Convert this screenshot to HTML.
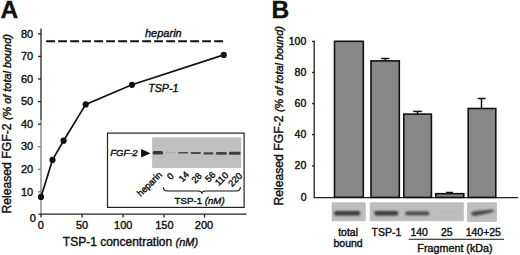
<!DOCTYPE html>
<html><head><meta charset="utf-8">
<style>
html,body{margin:0;padding:0;background:#fff;width:520px;height:255px;overflow:hidden}
svg{display:block}
text{font-family:"Liberation Sans",sans-serif;fill:#111;stroke:#111;stroke-width:0.4px}
.it{font-style:italic}
</style></head>
<body>
<svg width="520" height="255" viewBox="0 0 520 255">
<defs><filter id="bl2" x="-20%" y="-100%" width="140%" height="300%"><feGaussianBlur stdDeviation="0.55"/></filter><filter id="bl" x="-20%" y="-100%" width="140%" height="300%"><feGaussianBlur stdDeviation="0.85"/></filter></defs>
<rect width="520" height="255" fill="#fff"/>
<!-- ===== Panel A ===== -->
<text x="0.6" y="17.7" font-size="24.5" font-weight="bold">A</text>
<!-- y axis label -->
<text transform="translate(11,213.6) rotate(-90)" font-size="12.2">Released FGF-2 <tspan class="it" font-size="10.9">(% of total bound)</tspan></text>
<!-- axes -->
<g stroke="#222" stroke-width="1.3" fill="none">
<line x1="41" y1="28.5" x2="41" y2="120"/>
<line x1="41" y1="120" x2="41" y2="214.5" stroke="#7c7c7c"/>
<line x1="38.5" y1="214.2" x2="246.5" y2="214.2"/>
<line x1="38" y1="191.9" x2="41" y2="191.9" stroke="#7c7c7c"/>
<line x1="38" y1="169.3" x2="41" y2="169.3" stroke="#7c7c7c"/>
<line x1="38" y1="146.7" x2="41" y2="146.7" stroke="#7c7c7c"/>
<line x1="38" y1="124.2" x2="41" y2="124.2"/>
<line x1="38" y1="101.6" x2="41" y2="101.6"/>
<line x1="38" y1="79.0" x2="41" y2="79.0"/>
<line x1="38" y1="56.4" x2="41" y2="56.4"/>
<line x1="38" y1="33.8" x2="41" y2="33.8"/>
<line x1="41" y1="214.2" x2="41" y2="217.5"/>
<line x1="82" y1="214.2" x2="82" y2="217.5"/>
<line x1="123" y1="214.2" x2="123" y2="217.5"/>
<line x1="164" y1="214.2" x2="164" y2="217.5"/>
<line x1="204.5" y1="214.2" x2="204.5" y2="217.5"/>
</g>
<g font-size="11" text-anchor="end">
<text x="33.2" y="37.5">80</text>
<text x="33.2" y="60.1">70</text>
<text x="33.2" y="82.7">60</text>
<text x="33.2" y="105.3">50</text>
<text x="33.2" y="127.9">40</text>
<text x="33.2" y="150.4">30</text>
<text x="33.2" y="173.0">20</text>
<text x="33.2" y="195.6">10</text>
<text x="35.8" y="222">0</text>
</g>
<g font-size="11" text-anchor="middle">
<text x="40.8" y="228.5">0</text>
<text x="82" y="228.5">50</text>
<text x="123.2" y="228.5">100</text>
<text x="164.4" y="228.5">150</text>
<text x="204" y="228.5">200</text>
</g>
<text x="62.8" y="245.6" font-size="12">TSP-1 concentration <tspan class="it" font-size="11">(nM)</tspan></text>
<!-- heparin dashed -->
<line x1="46.2" y1="41.3" x2="223.8" y2="41.3" stroke="#111" stroke-width="1.9" stroke-dasharray="8.8 3.2"/>
<text class="it" x="145" y="36.9" font-size="11">heparin</text>
<!-- data -->
<polyline points="41,196.9 52.5,159.9 63.6,140.7 85.7,104.4 132,84.8 223.8,54.9" fill="none" stroke="#111" stroke-width="1.7"/>
<g fill="#111">
<circle cx="41" cy="196.9" r="3.1"/>
<circle cx="52.5" cy="159.9" r="3.1"/>
<circle cx="63.6" cy="140.7" r="3.1"/>
<circle cx="85.7" cy="104.4" r="3.1"/>
<circle cx="132" cy="84.8" r="3.1"/>
<circle cx="223.8" cy="54.9" r="3.1"/>
</g>
<text class="it" x="148.2" y="91.7" font-size="10.7">TSP-1</text>
<!-- inset -->
<rect x="107.5" y="133.1" width="136.6" height="74.3" fill="#fff" stroke="#222" stroke-width="1.2"/>
<rect x="152.1" y="137.3" width="89.1" height="30.8" fill="#bfbfbf"/>
<g filter="url(#bl2)">
<rect x="152.6" y="151" width="10.4" height="3.5" rx="1.5" fill="#383838"/>
<rect x="166" y="152" width="9.5" height="1.2" rx="0.6" fill="#acacac"/>
<rect x="178.2" y="152.1" width="10" height="1.5" rx="0.7" fill="#4e4e4e"/>
<rect x="190.5" y="152.1" width="10.4" height="1.8" rx="0.8" fill="#4a4a4a"/>
<rect x="203.5" y="152.2" width="9.9" height="2.4" rx="1.1" fill="#444"/>
<rect x="215.8" y="152.1" width="11" height="2.6" rx="1.2" fill="#424242"/>
<rect x="228.9" y="151.8" width="11.6" height="3" rx="1.4" fill="#3e3e3e"/>
</g>
<text class="it" x="110.2" y="156.4" font-size="9.5">FGF-2</text>
<polygon points="141.1,149 141.1,157.5 150.5,153.2" fill="#111"/>
<g font-size="9.2" text-anchor="end">
<text transform="translate(162.5,175.3) rotate(-45)">heparin</text>
<text transform="translate(174.3,176.6) rotate(-45)">0</text>
<text transform="translate(189.7,175.2) rotate(-45)">14</text>
<text transform="translate(202.4,176.4) rotate(-45)">28</text>
<text transform="translate(216.1,175.5) rotate(-45)">56</text>
<text transform="translate(229.1,176) rotate(-45)">110</text>
<text transform="translate(242.8,176.3) rotate(-45)">220</text>
</g>
<path d="M163.3,187.2 Q163.5,191 167.5,191 L198,191 Q201.8,191 201.8,193.8 Q201.8,191 205.6,191 L236.4,191 Q240.3,191 240.4,186.9" fill="none" stroke="#111" stroke-width="1.15"/>
<text x="174.6" y="203.8" font-size="9.7">TSP-1 <tspan class="it">(nM)</tspan></text>

<!-- ===== Panel B ===== -->
<text x="271.4" y="18" font-size="24.5" font-weight="bold">B</text>
<text transform="translate(283.3,205.6) rotate(-90)" font-size="12.2">Released FGF-2 <tspan class="it" font-size="10.9">(% of total bound)</tspan></text>
<g stroke="#222" stroke-width="1.3" fill="none">
<line x1="314.2" y1="40.8" x2="314.2" y2="197.6"/>
<line x1="313.6" y1="197.6" x2="518" y2="197.6"/>
<line x1="312" y1="41.4" x2="314.2" y2="41.4"/>
<line x1="312" y1="72.5" x2="314.2" y2="72.5"/>
<line x1="312" y1="103.6" x2="314.2" y2="103.6"/>
<line x1="312" y1="134.7" x2="314.2" y2="134.7"/>
<line x1="312" y1="165.9" x2="314.2" y2="165.9"/>
</g>
<g font-size="10.5" text-anchor="end">
<text x="306.3" y="44.8">100</text>
<text x="306.3" y="76">80</text>
<text x="306.3" y="107.1">60</text>
<text x="306.3" y="138.2">40</text>
<text x="306.3" y="169.4">20</text>
<text x="306.6" y="200.5">0</text>
</g>
<!-- bars -->
<g fill="#878787" stroke="#111" stroke-width="1.6">
<rect x="334.5" y="41.3" width="28.8" height="156"/>
<rect x="371" y="60.9" width="28.3" height="136.5"/>
<rect x="403.8" y="114.1" width="27.6" height="83.3"/>
<rect x="435.8" y="193.7" width="28" height="3.7"/>
<rect x="468.2" y="108.5" width="27.6" height="88.9"/>
</g>
<g stroke="#111" stroke-width="1.5">
<line x1="385.3" y1="58.5" x2="385.3" y2="60.9"/>
<line x1="381.2" y1="58.5" x2="389.4" y2="58.5"/>
<line x1="417.5" y1="111.4" x2="417.5" y2="114.1"/>
<line x1="413.2" y1="111.4" x2="421.8" y2="111.4"/>
<line x1="481.5" y1="98.5" x2="481.5" y2="108.5"/>
<line x1="477.6" y1="98.5" x2="485.6" y2="98.5"/>
<line x1="446" y1="192.5" x2="453" y2="192.5"/>
</g>
<!-- gel strips -->
<rect x="331.7" y="202.3" width="34" height="18.8" fill="#bdbdbd"/>
<rect x="369.8" y="202.3" width="94" height="18.8" fill="#bdbdbd"/>
<rect x="467.1" y="202.3" width="29.8" height="19.6" fill="#bdbdbd"/>
<g filter="url(#bl)">
<rect x="334" y="211" width="26.3" height="4.4" rx="2" fill="#3a3a3a"/>
<rect x="374.3" y="210.9" width="24" height="4.5" rx="2" fill="#3a3a3a"/>
<rect x="405.2" y="211.4" width="24.1" height="3.8" rx="1.8" fill="#444"/>
<rect x="441" y="211" width="17" height="1.6" rx="0.8" fill="#b2b2b2"/>
<path d="M471.2,213.2 Q471.2,215.9 474.5,215.9 Q482,215 488.5,213.3 Q494.5,211.8 494.3,210.5 Q493.8,209.3 489,209.8 Q480,210.6 475,211.3 Q471.2,211.8 471.2,213.2 Z" fill="#474747"/>
</g>
<g font-size="10.5" text-anchor="middle">
<text x="348.1" y="236.3">total</text>
<text x="348.1" y="246.9">bound</text>
<text x="386.5" y="236.3">TSP-1</text>
<text x="419.2" y="236.3">140</text>
<text x="446.8" y="236.3">25</text>
<text x="483.3" y="236.3">140+25</text>
<text x="455" y="251.7" font-size="10.75">Fragment (kDa)</text>
</g>
<line x1="408.7" y1="239.2" x2="504" y2="239.2" stroke="#111" stroke-width="1.1"/>
</svg>
</body></html>
